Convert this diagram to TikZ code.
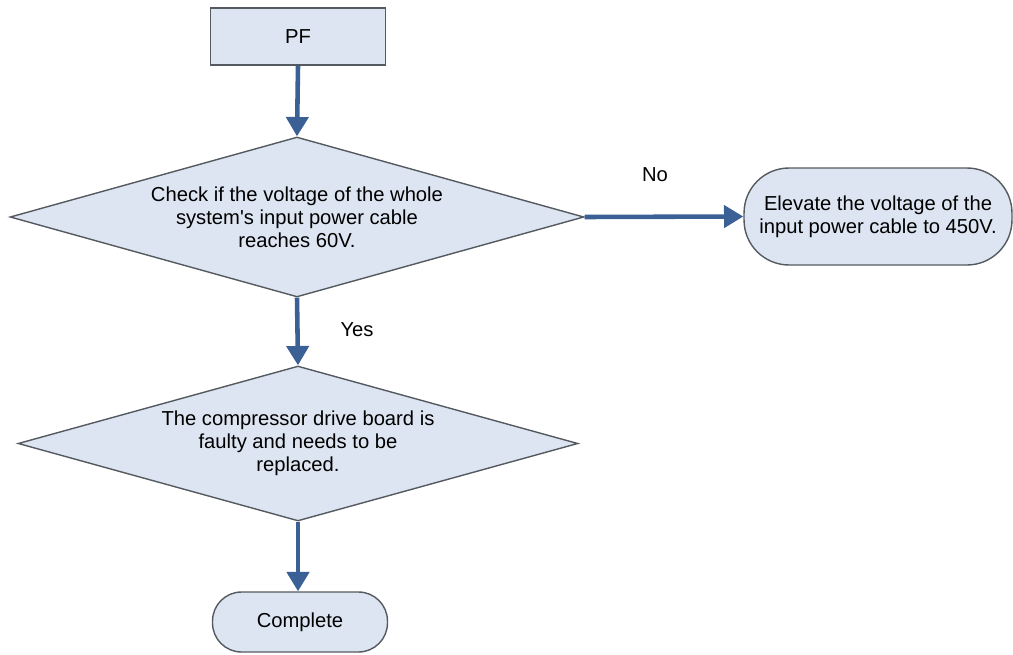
\documentclass[tikz,border=0pt]{standalone}
\usepackage{fontspec}
\setmainfont{Liberation Sans}
\usetikzlibrary{arrows.meta,shapes.geometric}
\usepackage{xcolor}
\definecolor{boxfill}{HTML}{DCE5F1}
\definecolor{boxline}{HTML}{555A60}
\definecolor{flowblue}{HTML}{3A6095}

\tikzset{
  stepbox/.style={draw=boxline, fill=boxfill, line width=0.8pt, rectangle,
    font=\fontsize{11.5}{13}\selectfont, align=center, inner sep=0pt},
  decision/.style={draw=boxline, fill=boxfill, line width=0.8pt, diamond, aspect=3.6,
    font=\fontsize{11.5}{13}\selectfont, align=center, inner sep=0pt},
  endbox/.style={stepbox},
  flow/.style={draw=flowblue, line width=2.6pt,
    -{Triangle[length=11pt, width=12.5pt]}},
  tag/.style={font=\fontsize{11.5}{13}\selectfont, inner sep=0pt}
}

\begin{document}
\begin{tikzpicture}[x=0.02cm, y=-0.02cm]

  % Canvas (pixel grid of the reference)
  \useasboundingbox (0, 0) rectangle (1013, 655);

  % ==================== NODES ====================
  \node[stepbox, minimum width=3.5cm, minimum height=1.14cm] (pf) at (298, 36.5) {PF};

  \node[decision, minimum width=11.48cm, minimum height=3.2cm] (check) at (297, 217)
    {Check if the voltage of the whole\\system\textquotesingle s input power cable\\reaches 60V.};

  \node[endbox, rounded corners=0.9cm, minimum width=5.36cm, minimum height=1.94cm]
    (raise) at (878, 216.5) {Elevate the voltage of the\\input power cable to 450V.};

  \node[decision, minimum width=11.2cm, minimum height=3.1cm] (board) at (298, 443.5)
    {The compressor drive board is\\faulty and needs to be\\replaced.};

  \node[endbox, rounded corners=0.58cm, minimum width=3.5cm, minimum height=1.2cm]
    (done) at (300, 622) {Complete};

  % Branch labels
  \node[tag] (nolabel) at (655, 175) {No};
  \node[tag] (yeslabel) at (357, 330) {Yes};

  % ==================== CONNECTORS ====================
  \draw[flow] (pf.south) -- (check.north);
  \draw[flow] (check.east) -- (raise.west);
  \draw[flow] (check.south) -- (board.north);
  \draw[flow] (board.south) -- (board.south |- done.north);

\end{tikzpicture}
\end{document}
